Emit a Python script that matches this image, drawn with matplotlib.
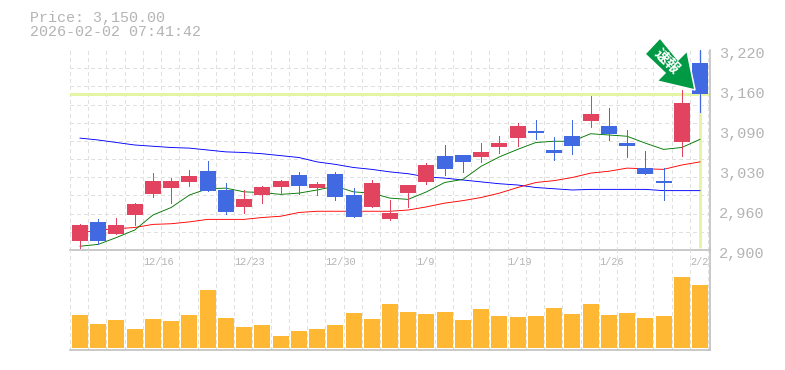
import matplotlib
matplotlib.use('Agg')
import matplotlib.pyplot as plt
from matplotlib.patches import Polygon
from matplotlib.transforms import ScaledTranslation
import numpy as np

opens = [2914, 2945, 2926, 2956, 2990, 2999, 3009, 3026, 2996, 2969, 2988, 3001, 3020, 2999, 3022, 2988, 2969, 2950,
         2991, 3009, 3050, 3052, 3049, 3065, 3079, 3090, 3060, 3082, 3106, 3098, 3071, 3031, 3010, 3073, 3199]
closes = [2940, 2914, 2940, 2974, 3010, 3010, 3018, 2994, 2961, 2982, 3001, 3010, 3002, 3006, 2985, 2953, 3007, 2959,
          3004, 3036, 3030, 3041, 3057, 3071, 3098, 3087, 3055, 3066, 3118, 3086, 3066, 3022, 3007, 3135, 3150]
highs = [2942, 2950, 2951, 2975, 3023, 3015, 3028, 3042, 3007, 2996, 3002, 3012, 3025, 3009, 3025, 2999, 3012, 2980,
         3004, 3039, 3068, 3052, 3071, 3082, 3103, 3108, 3081, 3108, 3146, 3127, 3092, 3058, 3031, 3156, 3220]
lows = [2903, 2910, 2926, 2940, 2985, 2975, 3002, 2994, 2958, 2959, 2975, 2990, 2990, 2988, 2980, 2953, 2969, 2948,
        2969, 3006, 3020, 3025, 3041, 3055, 3066, 3078, 3044, 3054, 3097, 3076, 3049, 3022, 2980, 3050, 3121]
ma_short = [2906, 2909, 2920, 2932, 2956, 2968, 2988, 2998, 2999, 2993, 2992, 2989, 2991, 2996, 3002, 2993, 2991, 2983,
            2981, 2993, 3008, 3013, 3034, 3049, 3061, 3072, 3074, 3074, 3086, 3084, 3082, 3071, 3061, 3064, 3077]
ma_mid = [2927, 2932, 2934, 2936, 2941, 2942, 2945, 2949, 2949, 2949, 2952, 2954, 2960, 2962, 2962, 2962, 2962, 2962,
          2964, 2969, 2975, 2979, 2984, 2991, 3000, 3008, 3011, 3016, 3023, 3026, 3031, 3030, 3029, 3036, 3041]
ma_long = [3079, 3076, 3072, 3068, 3066, 3064, 3063, 3060, 3057, 3056, 3054, 3051, 3048, 3041, 3037, 3032, 3029, 3025,
           3022, 3017, 3015, 3012, 3009, 3006, 3004, 3000, 2998, 2996, 2997, 2997, 2997, 2997, 2995, 2995, 2995]
volumes = [33, 24, 28, 19, 29, 27, 33, 58, 30, 21, 23, 12, 17, 19, 23, 35, 29, 44,
           36, 34, 36, 28, 39, 32, 31, 32, 40, 34, 44, 33, 35, 30, 32, 71, 63]
date_labels = ['12/16', '12/23', '12/30', '1/9', '1/19', '1/26', '2/2']
date_slots = [4, 9, 14, 19, 24, 29, 34]
price_ticks = [2900, 2964, 3028, 3092, 3156, 3220]
price_labels = ['2,900', '2,960', '3,030', '3,090', '3,160', '3,220']
last_price = 3150

W, H = 785, 370
MONO = 'Liberation Mono'
GREY = '#b4b4b4'
PX = 0.72

fig = plt.figure(figsize=(W / 100, H / 100), dpi=100)
ax = fig.add_axes([70 / W, (H - 250) / H, 640 / W, 200 / H])
vol = fig.add_axes([70 / W, (H - 350) / H, 640 / W, 100 / H])

x = np.arange(len(opens))
grid_x = np.arange(len(opens) + 1) - 0.55
grid_y = np.linspace(2900, 3220, 12)

for a in (ax, vol):
    a.set_xlim(-0.55, 34.55)
    a.set_xticks(grid_x, minor=True)
    a.xaxis.remove_overlapping_locs = False
    a.grid(True, which='minor', axis='x', color='#e0e0e0', lw=PX, ls=(0, (3, 3)), antialiased=False)
    a.set_axisbelow(True)
    a.tick_params(which='both', length=0)
    a.patch.set_alpha(0)
    a.spines['top'].set_visible(False)
    a.spines['left'].set_visible(False)
    a.spines['right'].set_color('#bbbbbb')
    a.spines['bottom'].set_color('#bbbbbb')
    a.spines['right'].set_linewidth(1.1)
    a.spines['bottom'].set_linewidth(1.1)

ax.set_ylim(2900, 3220)
ax.set_yticks(grid_y, minor=True)
ax.grid(True, which='minor', axis='y', color='#e0e0e0', lw=PX, ls=(0, (3, 3)), antialiased=False)
ax.yaxis.tick_right()
ax.set_yticks(price_ticks, price_labels)
ax.tick_params(axis='y', which='major', pad=6.5, labelsize=11, labelcolor=GREY)
ax.set_xticks([s - 0.55 for s in date_slots], date_labels, ha='left')
ax.tick_params(axis='x', which='major', pad=5, labelsize=7.4, labelcolor=GREY)
for t in ax.get_xticklabels() + ax.get_yticklabels():
    t.set_family(MONO)
# the price labels sit a little under their ticks
shift = ScaledTranslation(0, -2.5 / 100, fig.dpi_scale_trans)
for t in ax.get_yticklabels():
    t.set_transform(t.get_transform() + shift)

ax.axhline(last_price, color='#e4f5a5', lw=3 * PX, zorder=1.5)
ax.vlines(x[-1], 2903, 3220, color='#e4f5a5', lw=3 * PX, zorder=1.5)

ax.plot(x, ma_long, color='#0000ff', lw=0.9 * PX, zorder=2)
ax.plot(x, ma_mid, color='#ff0000', lw=0.9 * PX, zorder=2)
ax.plot(x, ma_short, color='#007700', lw=0.9 * PX, zorder=2)

colors = ['#e2435f' if c >= o else '#4169e1' for o, c in zip(opens, closes)]
ax.vlines(x, lows, highs, colors=colors, lw=0.7 * PX, antialiased=False, zorder=3)
ax.bar(x, np.abs(np.subtract(closes, opens)), bottom=np.minimum(opens, closes), width=0.8775,
       color=colors, antialiased=False, zorder=3)

vol.set_ylim(-2, 98)
vol.set_yticks([])
vol.set_xticks([])
vol.bar(x, volumes, width=0.8775, color='#ffb833', antialiased=False, zorder=3)

# arrow is placed in picture pixels
arrow_px = [(660, 38), (645, 54), (665, 73), (657, 81), (695, 90), (687, 51), (678, 60)]
arrow = [(px / W, 1 - py / H) for px, py in arrow_px]
fig.add_artist(Polygon(arrow, closed=True, transform=fig.transFigure, facecolor='#009944',
                       edgecolor='white', lw=1.1, joinstyle='miter', zorder=10))
fig.text(667 / W, 1 - 61 / H, '速報', color='white', fontsize=10.5, fontweight='bold', rotation=-45,
         ha='center', va='center', family=['Noto Sans CJK JP', 'DejaVu Sans'], zorder=11)

fig.text(30 / W, 1 - 18 / H, 'Price: 3,150.00', color=GREY, fontsize=10.8, family=MONO, va='center')
fig.text(30 / W, 1 - 32 / H, '2026-02-02 07:41:42', color=GREY, fontsize=10.8, family=MONO, va='center')

fig.savefig('out.png', dpi=100)
plt.close(fig)
